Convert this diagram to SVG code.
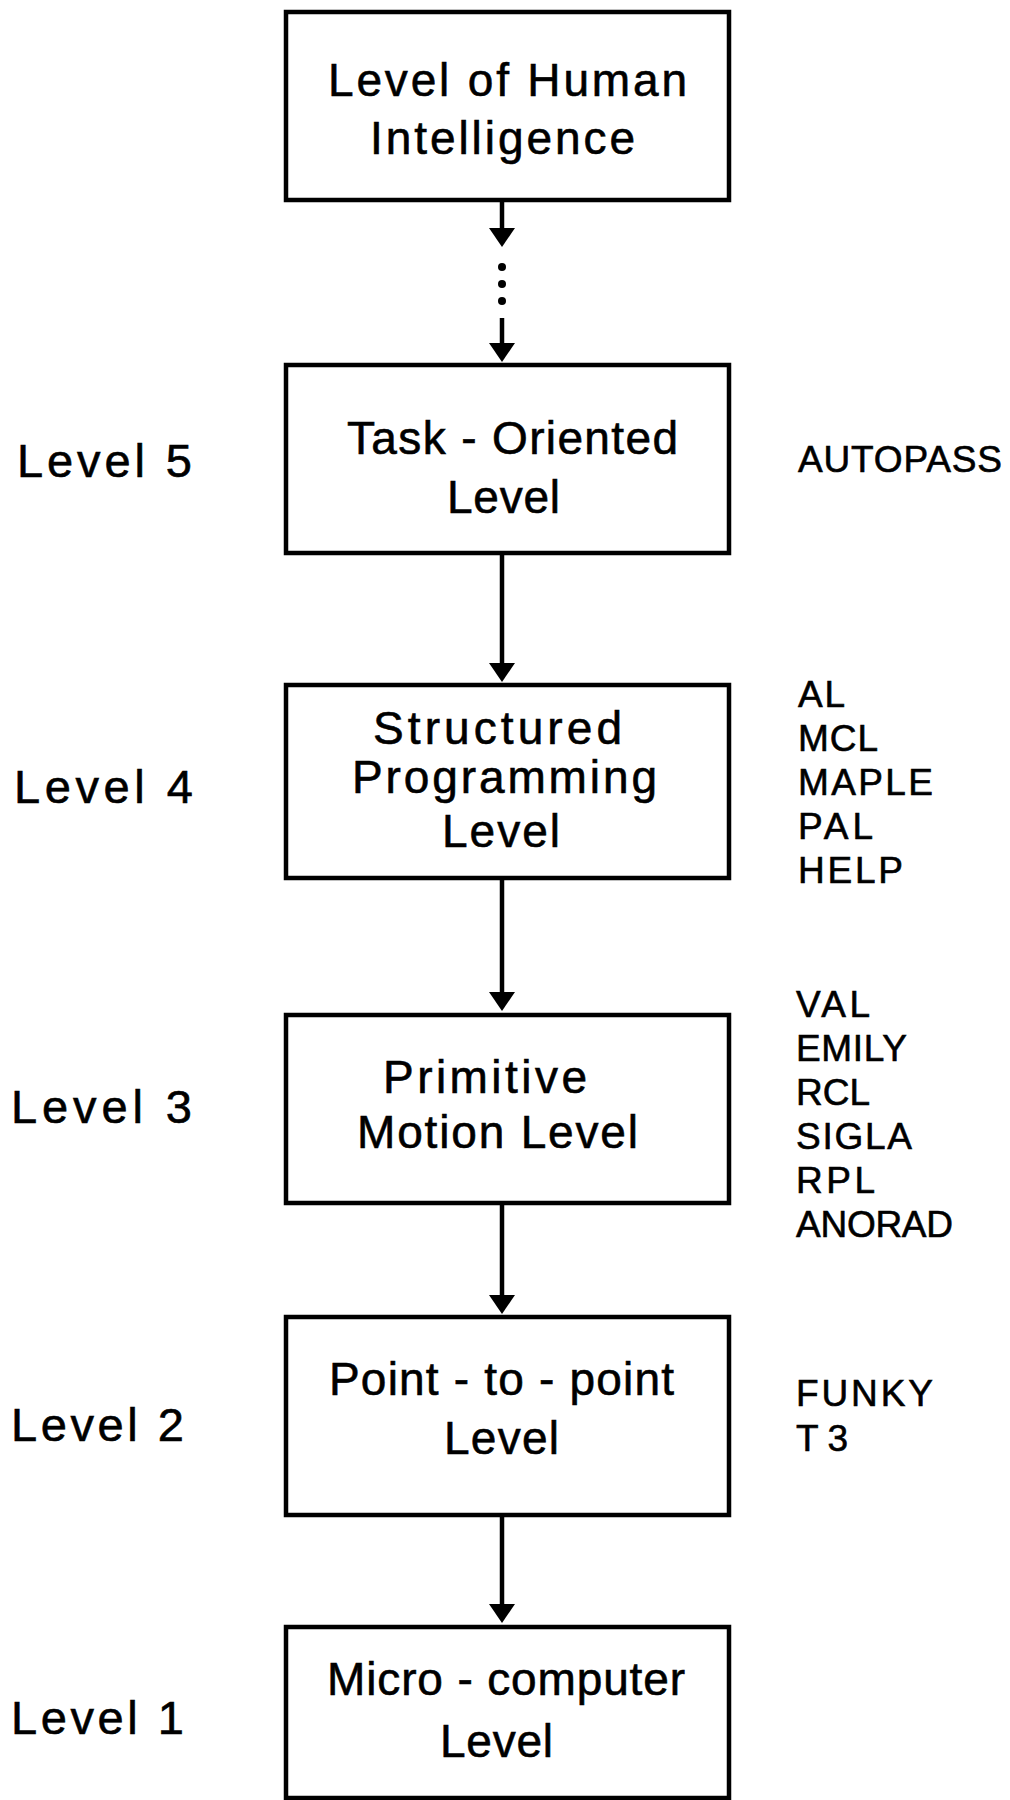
<svg xmlns="http://www.w3.org/2000/svg" width="1010" height="1800" viewBox="0 0 1010 1800">
<style>
.box{fill:#fff;stroke:#000;stroke-width:4.5}
.t{font-family:"Liberation Sans","DejaVu Sans",sans-serif;font-size:46px;fill:#000;stroke:#000;stroke-width:0.6}
.l{font-family:"Liberation Sans","DejaVu Sans",sans-serif;font-size:47px;fill:#000;stroke:#000;stroke-width:0.6}
.r{font-family:"Liberation Sans","DejaVu Sans",sans-serif;font-size:37px;fill:#000;stroke:#000;stroke-width:0.6}
.c{stroke:#000;stroke-width:4.5;fill:none}
.h{fill:#000}
</style>
<defs>
<path id="ah" d="M-13,0 L13,0 L0,19 Z"/>
</defs>
<rect width="1010" height="1800" fill="#fff"/>
<g id="connectors">
<line class="c" x1="502" y1="200" x2="502" y2="228"/>
<use href="#ah" class="h" x="502" y="228"/>
<circle cx="502" cy="267" r="4"/>
<circle cx="502" cy="284" r="4"/>
<circle cx="502" cy="301" r="4"/>
<line class="c" x1="502" y1="318" x2="502" y2="344"/>
<use href="#ah" class="h" x="502" y="343"/>
<line class="c" x1="502" y1="553" x2="502" y2="664"/>
<use href="#ah" class="h" x="502" y="663"/>
<line class="c" x1="502" y1="878" x2="502" y2="993"/>
<use href="#ah" class="h" x="502" y="992"/>
<line class="c" x1="502" y1="1203" x2="502" y2="1296"/>
<use href="#ah" class="h" x="502" y="1295"/>
<line class="c" x1="502" y1="1515" x2="502" y2="1605"/>
<use href="#ah" class="h" x="502" y="1604"/>
</g>
<g id="human">
<rect class="box" x="286" y="12" width="443" height="188"/>
<text class="t" x="328" y="96" textLength="359" lengthAdjust="spacing">Level of Human</text>
<text class="t" x="370" y="154" textLength="265" lengthAdjust="spacing">Intelligence</text>
</g>
<g id="task">
<rect class="box" x="286" y="365" width="443" height="188"/>
<text class="t" x="347" y="454" textLength="331" lengthAdjust="spacing">Task - Oriented</text>
<text class="t" x="447" y="513" textLength="113" lengthAdjust="spacing">Level</text>
</g>
<g id="structured">
<rect class="box" x="286" y="685" width="443" height="193"/>
<text class="t" x="373" y="744" textLength="249" lengthAdjust="spacing">Structured</text>
<text class="t" x="352" y="793" textLength="305" lengthAdjust="spacing">Programming</text>
<text class="t" x="442" y="847" textLength="118" lengthAdjust="spacing">Level</text>
</g>
<g id="primitive">
<rect class="box" x="286" y="1015" width="443" height="188"/>
<text class="t" x="383" y="1093" textLength="204" lengthAdjust="spacing">Primitive</text>
<text class="t" x="357" y="1148" textLength="281" lengthAdjust="spacing">Motion Level</text>
</g>
<g id="point">
<rect class="box" x="286" y="1317" width="443" height="198"/>
<text class="t" x="329" y="1395" textLength="345" lengthAdjust="spacing">Point - to - point</text>
<text class="t" x="444" y="1454" textLength="115" lengthAdjust="spacing">Level</text>
</g>
<g id="micro">
<rect class="box" x="286" y="1627" width="443" height="171"/>
<text class="t" x="327" y="1695" textLength="358" lengthAdjust="spacing">Micro - computer</text>
<text class="t" x="440" y="1757" textLength="113" lengthAdjust="spacing">Level</text>
</g>
<g id="levels">
<text class="l" x="17" y="477" textLength="175" lengthAdjust="spacing">Level 5</text>
<text class="l" x="14" y="803" textLength="179" lengthAdjust="spacing">Level 4</text>
<text class="l" x="11" y="1123" textLength="181" lengthAdjust="spacing">Level 3</text>
<text class="l" x="11" y="1441" textLength="173" lengthAdjust="spacing">Level 2</text>
<text class="l" x="11" y="1734" textLength="173" lengthAdjust="spacing">Level 1</text>
</g>
<g id="languages">
<text class="r" x="798" y="472" textLength="204" lengthAdjust="spacing">AUTOPASS</text>
<text class="r" x="798" y="707" textLength="47" lengthAdjust="spacing">AL</text>
<text class="r" x="798" y="751" textLength="80" lengthAdjust="spacing">MCL</text>
<text class="r" x="798" y="795" textLength="135" lengthAdjust="spacing">MAPLE</text>
<text class="r" x="798" y="839" textLength="75" lengthAdjust="spacing">PAL</text>
<text class="r" x="798" y="883" textLength="105" lengthAdjust="spacing">HELP</text>
<text class="r" x="796" y="1017" textLength="74" lengthAdjust="spacing">VAL</text>
<text class="r" x="796" y="1061" textLength="111" lengthAdjust="spacing">EMILY</text>
<text class="r" x="796" y="1105" textLength="74" lengthAdjust="spacing">RCL</text>
<text class="r" x="796" y="1149" textLength="116" lengthAdjust="spacing">SIGLA</text>
<text class="r" x="796" y="1193" textLength="79" lengthAdjust="spacing">RPL</text>
<text class="r" x="796" y="1237" textLength="157" lengthAdjust="spacing">ANORAD</text>
<text class="r" x="796" y="1406" textLength="137" lengthAdjust="spacing">FUNKY</text>
<text class="r" x="796" y="1451" textLength="52" lengthAdjust="spacing">T3</text>
</g>
</svg>
